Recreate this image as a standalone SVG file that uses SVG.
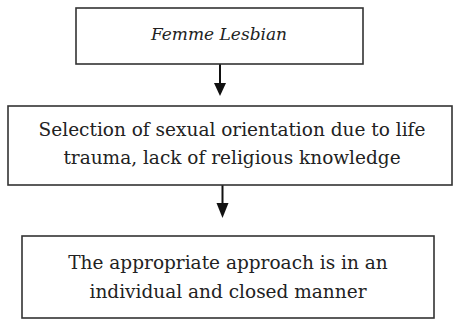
<svg xmlns="http://www.w3.org/2000/svg" width="454" height="320" viewBox="0 0 454 320">
<style>
.box{fill:#fff;stroke:#333;stroke-width:1.6}
.t{font-family:"DejaVu Serif","Liberation Serif",serif;font-size:18.5px;fill:#222;text-anchor:middle}
.i{font-style:italic;font-size:17px}
.c{stroke:#111;stroke-width:2;fill:none}
.h{fill:#111}
</style>
<rect width="454" height="320" fill="#fff"/>
<g id="connectors">
<line class="c" x1="220" y1="64" x2="220" y2="85"/>
<polygon class="h" points="214,83 226,83 220,96"/>
<line class="c" x1="222.5" y1="185" x2="222.5" y2="205"/>
<polygon class="h" points="216.5,203 228.5,203 222.5,218"/>
</g>
<g id="node1">
<rect class="box" x="76" y="8" width="287" height="56"/>
<text class="t i" x="219" y="40">Femme Lesbian</text>
</g>
<g id="node2">
<rect class="box" x="8" y="106" width="444" height="79"/>
<text class="t" x="232" y="136">Selection of sexual orientation due to life</text>
<text class="t" x="232" y="164">trauma, lack of religious knowledge</text>
</g>
<g id="node3">
<rect class="box" x="22" y="236" width="412" height="82"/>
<text class="t" x="228" y="269">The appropriate approach is in an</text>
<text class="t" x="228" y="298">individual and closed manner</text>
</g>
</svg>
